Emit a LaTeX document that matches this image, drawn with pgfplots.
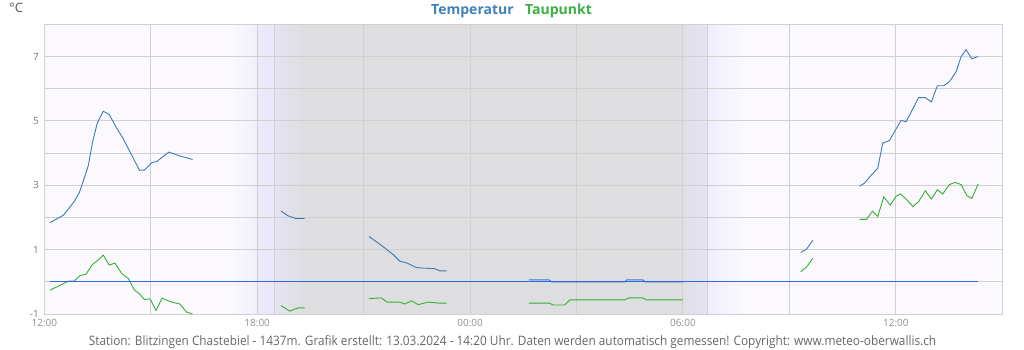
\documentclass[border=0pt]{standalone}
\usepackage{fontspec}
\setmainfont{Open Sans}
\newfontfamily\condfont{Open Sans}[FakeStretch=0.91]
\usepackage{pgfplots}
\pgfplotsset{compat=1.18}
\definecolor{bgc}{HTML}{FBF9FE}
\definecolor{nightc}{HTML}{DEDEE1}
\definecolor{lavA}{HTML}{F2EEFC}
\definecolor{lavB}{HTML}{EFEAFA}
\definecolor{lavC}{HTML}{EBE6F8}
\definecolor{lavD}{HTML}{E6E3F2}
\definecolor{lavE}{HTML}{DFDFE5}
\definecolor{lavF}{HTML}{E5E3F3}
\definecolor{lavG}{HTML}{F1EDFC}
\definecolor{gridc}{HTML}{D0D0D0}
\definecolor{tempc}{HTML}{3A7BBA}
\definecolor{dewc}{HTML}{33B033}
\definecolor{zerolinec}{HTML}{2F66E8}
\definecolor{tickc}{HTML}{8F8F8F}
\definecolor{ytickc}{HTML}{777777}
\definecolor{titlet}{HTML}{4180BE}
\definecolor{titled}{HTML}{3CB043}
\definecolor{footc}{HTML}{666666}
\definecolor{degc}{HTML}{555555}

\pgfplotstableread{
h v
0.16 1.84
0.54 2.07
0.84 2.49
0.99 2.78
1.12 3.20
1.24 3.61
1.36 4.34
1.49 4.92
1.66 5.30
1.83 5.20
2.02 4.81
2.21 4.47
2.41 4.05
2.68 3.47
2.82 3.47
3.03 3.70
3.17 3.74
3.51 4.03
3.82 3.91
4.18 3.80
nan nan
6.67 2.20
6.87 2.05
7.08 1.97
7.34 1.97
nan nan
9.15 1.41
9.55 1.09
9.83 0.85
10.02 0.64
10.21 0.59
10.49 0.44
10.77 0.42
11.00 0.41
11.15 0.34
11.34 0.34
nan nan
13.66 0.06
14.23 0.06
14.29 0.00
16.37 0.00
16.41 0.06
16.87 0.06
16.93 0.00
18.00 0.00
nan nan
21.32 0.91
21.48 1.01
21.66 1.29
nan nan
22.98 2.97
23.12 3.07
23.31 3.32
23.49 3.53
23.63 4.31
23.82 4.39
23.96 4.66
24.15 5.02
24.29 4.97
24.48 5.38
24.64 5.72
24.83 5.72
25.00 5.59
25.17 6.09
25.35 6.09
25.51 6.22
25.70 6.53
25.84 7.00
25.98 7.21
26.14 6.93
26.32 7.00
}\temptable

\pgfplotstableread{
h v
0.16 -0.26
0.44 -0.11
0.68 0.02
0.84 0.02
1.01 0.20
1.17 0.23
1.36 0.54
1.52 0.68
1.66 0.83
1.83 0.52
1.99 0.58
2.18 0.26
2.37 0.10
2.54 -0.26
2.68 -0.37
2.82 -0.55
2.98 -0.53
3.15 -0.89
3.32 -0.51
3.56 -0.62
3.82 -0.69
4.01 -0.94
4.18 -1.00
nan nan
6.67 -0.74
6.92 -0.91
7.15 -0.81
7.34 -0.81
nan nan
9.15 -0.52
9.50 -0.50
9.66 -0.63
10.02 -0.63
10.16 -0.69
10.35 -0.59
10.54 -0.71
10.82 -0.63
11.10 -0.66
11.34 -0.66
nan nan
13.66 -0.66
14.23 -0.66
14.34 -0.72
14.67 -0.72
14.81 -0.56
16.36 -0.56
16.48 -0.50
16.86 -0.50
16.97 -0.56
18.00 -0.56
nan nan
21.32 0.31
21.49 0.47
21.66 0.73
nan nan
22.98 1.94
23.17 1.94
23.34 2.19
23.49 2.03
23.66 2.64
23.84 2.38
24.01 2.66
24.13 2.73
24.29 2.57
24.48 2.34
24.64 2.49
24.83 2.83
25.00 2.57
25.17 2.86
25.32 2.73
25.51 3.02
25.67 3.09
25.84 3.02
26.00 2.68
26.14 2.59
26.32 3.04
}\dewtable

\begin{document}
\begin{tikzpicture}
\path[use as bounding box] (0,0) rectangle (1024bp,350bp);
% night / twilight background (x in hours from 12:00, 35.4815bp per hour)
\begin{scope}[shift={(44.3bp,36bp)}, x=35.4815bp, y=289.7bp]
\fill[bgc] (0,0) rectangle (27,1);
\shade[left color=bgc, right color=lavA] (5.25,0) rectangle (6.0,1);
\shade[left color=lavB, right color=lavC] (6.0,0) rectangle (6.48,1);
\shade[left color=lavD, right color=nightc] (6.48,0) rectangle (7.3,1);
\fill[nightc] (7.29,0) rectangle (18.0,1);
\shade[left color=lavE, right color=lavF] (18.0,0) rectangle (18.7,1);
\shade[left color=lavG, right color=bgc] (18.7,0) rectangle (19.7,1);
\end{scope}
\begin{axis}[
  at={(44.3bp,36bp)}, anchor=south west,
  scale only axis, width=958bp, height=289.7bp,
  xmin=0, xmax=27, ymin=-1, ymax=8,
  xtick={0,3,...,27},
  xticklabels={12:00,,18:00,,00:00,,06:00,,12:00,},
  ytick={-1,0,...,8},
  yticklabels={-1,,1,,3,,5,,7,},
  extra x ticks={6.48,18.7},
  extra x tick labels={},
  extra x tick style={grid=major},
  grid=major,
  major grid style={gridc, line width=1bp},
  major tick length=0pt,
  axis line style={gridc, line width=1bp},
  tick label style={font=\fontsize{10bp}{12bp}\selectfont},
  xticklabel style={text=tickc, yshift=-1.5bp},
  yticklabel style={text=ytickc, xshift=-2bp},
  unbounded coords=jump,
]
\addplot[draw=tempc, line width=0.9bp] table[x=h, y=v] {\temptable};
\addplot[draw=dewc, line width=0.9bp] table[x=h, y=v] {\dewtable};
\addplot[draw=none, fill=zerolinec, mark=none] coordinates {(0.16,-0.018) (26.32,-0.018) (26.32,0.018) (0.16,0.018)} -- cycle;
\end{axis}
\node[anchor=base west, inner sep=0, text=titlet, font=\fontsize{14bp}{16bp}\selectfont\bfseries] at (431bp,335bp) {Temperatur};
\node[anchor=base west, inner sep=0, text=titled, font=\fontsize{14bp}{16bp}\selectfont\bfseries] at (525bp,335bp) {Taupunkt};
\node[anchor=base west, inner sep=0, text=degc, font=\fontsize{13bp}{15bp}\selectfont] at (9bp,337.3bp) {°C};
\node[anchor=base, inner sep=0, text=footc, font=\fontsize{13bp}{15bp}\condfont] at (512.5bp,5bp) {Station: Blitzingen Chastebiel - 1437m. Grafik erstellt: 13.03.2024 - 14:20 Uhr. Daten werden automatisch gemessen! Copyright: www.meteo-oberwallis.ch};
\end{tikzpicture}
\end{document}
